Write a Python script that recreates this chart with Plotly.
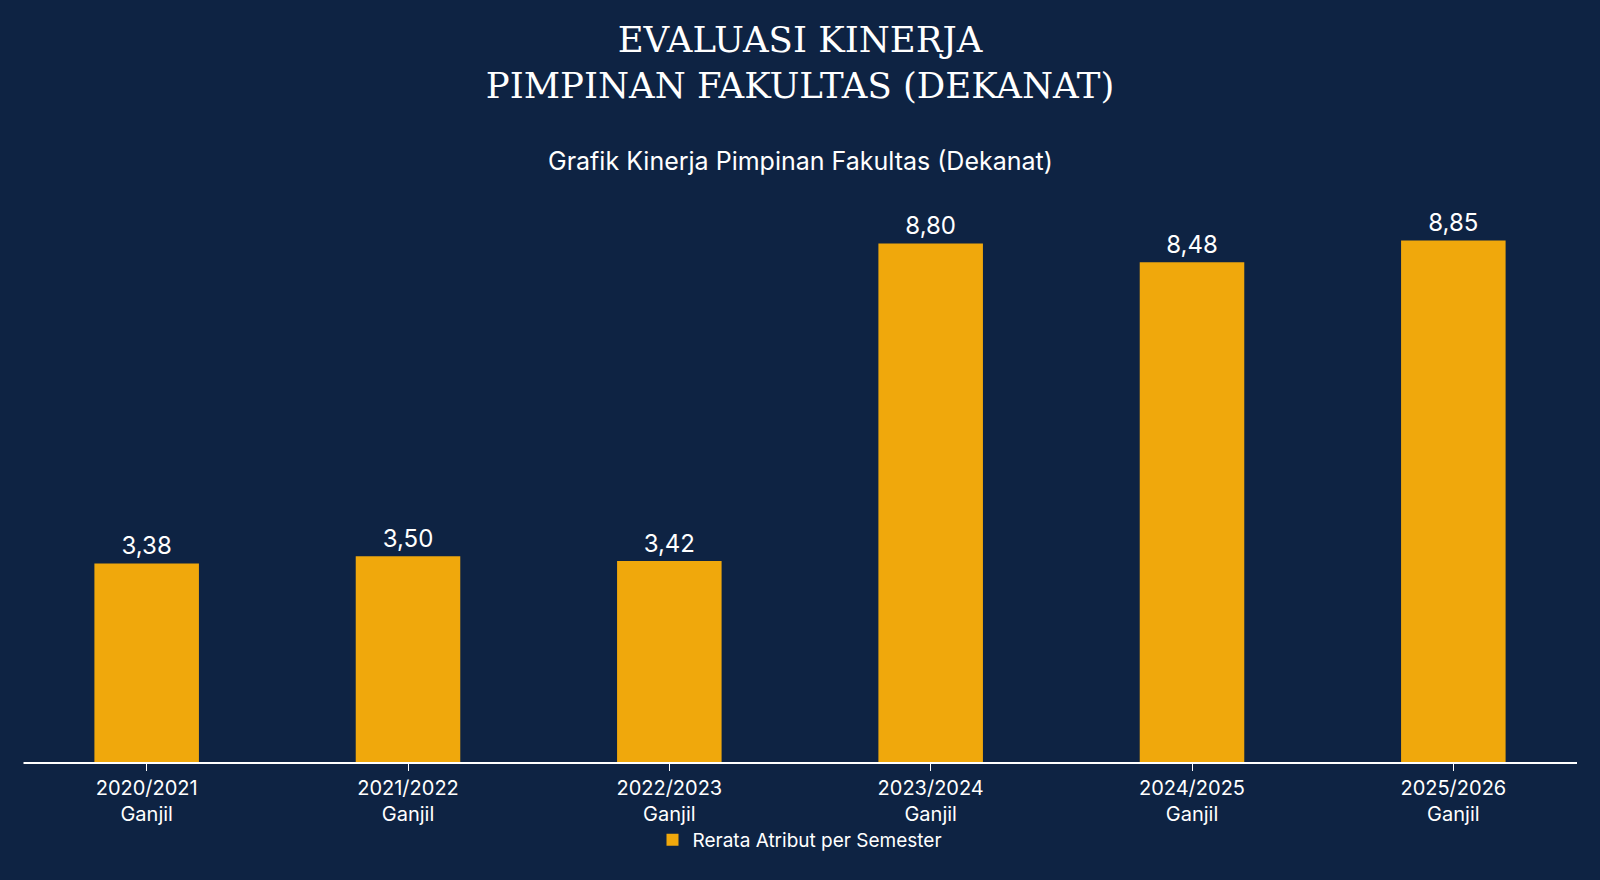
import plotly.graph_objects as go

categories = ["2020/2021<br>Ganjil", "2021/2022<br>Ganjil", "2022/2023<br>Ganjil",
              "2023/2024<br>Ganjil", "2024/2025<br>Ganjil", "2025/2026<br>Ganjil"]
values = [3.38, 3.50, 3.42, 8.80, 8.48, 8.85]
series_name = "Rerata Atribut per Semester"

BG = "#0E2343"
BAR = "#F0A80C"
SANS = "Inter, Roboto, sans-serif"

L, R, T, B = 16, 16, 143, 117
PW, PH = 1600 - L - R, 880 - T - B
AXIS_Y = 880 - B

fig = go.Figure(go.Bar(
    x=categories, y=values, name=series_name,
    marker=dict(color=BAR, line=dict(width=0)),
    width=0.4,
    texttemplate="%{y:.2f}",
    textposition="outside",
    textfont=dict(color="white", size=24, family=SANS),
    cliponaxis=False,
    showlegend=True,
))

fig.update_layout(
    width=1600, height=880,
    paper_bgcolor=BG, plot_bgcolor=BG,
    margin=dict(l=L, r=R, t=T, b=B),
    separators=",.",
    title=dict(text="EVALUASI KINERJA<br>PIMPINAN FAKULTAS (DEKANAT)",
               x=0.5, xanchor="center", y=1 - 52 / 880, yanchor="middle",
               font=dict(family="DejaVu Serif", size=35.5, color="white")),
    annotations=[dict(text="Grafik Kinerja Pimpinan Fakultas (Dekanat)",
                      x=0.5, xref="paper", y=(AXIS_Y - 161) / PH, yref="paper",
                      xanchor="center", yanchor="middle", showarrow=False,
                      font=dict(family=SANS, size=25, color="white"))],
    shapes=[dict(type="line", xref="paper", yref="paper",
                 x0=(23.5 - L) / PW, x1=(1577 - L) / PW, y0=0, y1=0,
                 line=dict(color="white", width=2))],
    legend=dict(orientation="h", x=0.5, xanchor="center",
                y=(AXIS_Y - 840) / PH, yanchor="middle",
                font=dict(family=SANS, size=19, color="white"),
                bgcolor="rgba(0,0,0,0)"),
    xaxis=dict(showline=False,
               ticks="outside", tickcolor="white", ticklen=7, tickwidth=1,
               tickfont=dict(family=SANS, size=20, color="white"),
               showgrid=False, zeroline=False),
    yaxis=dict(range=[0, 10.5], visible=False, showgrid=False, zeroline=False),
)

fig.write_html("out.html")
